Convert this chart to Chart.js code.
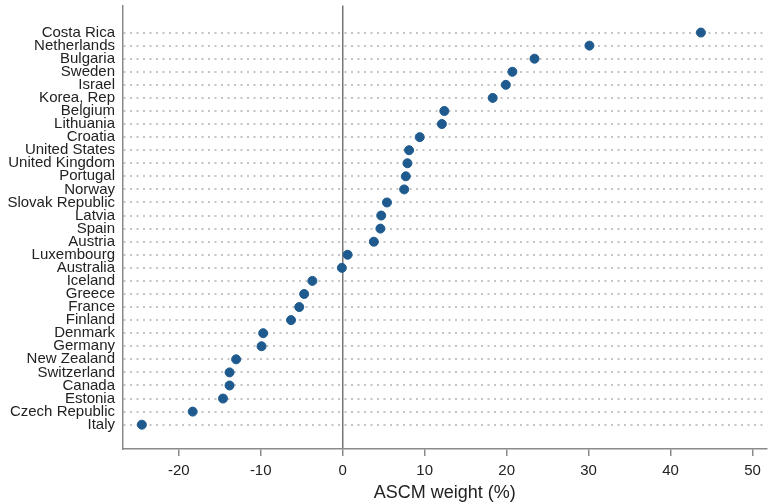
<!DOCTYPE html>
<html>
<head>
<meta charset="utf-8">
<script src="https://cdn.jsdelivr.net/npm/chart.js@4"></script>
<style>
  body { margin: 0; background: #fff; }
  #wrap { width: 772px; height: 504px; }
</style>
</head>
<body>
<div id="wrap"><canvas id="weights" width="772" height="504"></canvas></div>
<script>
// countries, top to bottom
const countries = ['Costa Rica', 'Netherlands', 'Bulgaria', 'Sweden', 'Israel', 'Korea, Rep', 'Belgium',
    'Lithuania', 'Croatia', 'United States', 'United Kingdom', 'Portugal', 'Norway', 'Slovak Republic',
    'Latvia', 'Spain', 'Austria', 'Luxembourg', 'Australia', 'Iceland', 'Greece', 'France', 'Finland',
    'Denmark', 'Germany', 'New Zealand', 'Switzerland', 'Canada', 'Estonia', 'Czech Republic', 'Italy'];
// ASCM weight (%)
const weights = [43.7, 30.1, 23.4, 20.7, 19.9, 18.3, 12.4, 12.1, 9.4, 8.1, 7.9, 7.7, 7.5, 5.4,
    4.7, 4.6, 3.8, 0.6, -0.1, -3.7, -4.7, -5.3, -6.3, -9.7, -9.9, -13.0, -13.8, -13.8, -14.6, -18.3, -24.5];
const xTicks = [-20, -10, 0, 10, 20, 30, 40, 50];

const points = weights.map((w, i) => ({ x: w, y: i }));
const font = 'Liberation Sans, Arial, sans-serif';

new Chart(document.getElementById('weights'), {
    type: 'scatter',
    data: {
        datasets: [{
            data: points,
            backgroundColor: '#1f5a8e',
            borderColor: '#1f5a8e',
            pointRadius: 4.5,
            pointHoverRadius: 4.5
        }]
    },
    options: {
        responsive: false,
        animation: false,
        layout: { padding: { top: 5, right: 4, left: 0, bottom: 0 } },
        plugins: { legend: { display: false }, tooltip: { enabled: false } },
        scales: {
            x: {
                min: -26.8,
                max: 51.7,
                afterBuildTicks: s => { s.ticks = xTicks.map(v => ({ value: v })); },
                afterFit: s => { s.height = 55; s.paddingLeft = 0; s.paddingRight = 0; },
                border: { display: true, color: '#8a8a8a', width: 1.5 },
                grid: {
                    color: c => (c.tick && c.tick.value === 0) ? '#777' : 'rgba(0,0,0,0)',
                    lineWidth: 1.5,
                    tickColor: '#8a8a8a',
                    tickLength: 7,
                    drawTicks: true
                },
                ticks: { color: '#222', font: { family: font, size: 15 }, padding: 6, maxRotation: 0 },
                title: {
                    display: true,
                    text: 'ASCM weight (%)',
                    color: '#222',
                    font: { family: font, size: 18 },
                    padding: { top: 1, bottom: 0 }
                }
            },
            y: {
                reverse: true,
                min: -2.07,
                max: 31.86,
                afterBuildTicks: s => { s.ticks = countries.map((c, i) => ({ value: i })); },
                afterFit: s => { s.width = 123; s.paddingTop = 0; s.paddingBottom = 0; },
                border: { display: true, color: '#8a8a8a', width: 1.5, dash: [2, 4.5] },
                grid: {
                    color: '#c4c4c4',
                    lineWidth: 2,
                    drawTicks: false
                },
                ticks: {
                    autoSkip: false,
                    color: '#222',
                    padding: 8,
                    font: { family: font, size: 15 },
                    callback: v => countries[v]
                }
            }
        }
    }
});
</script>
</body>
</html>
